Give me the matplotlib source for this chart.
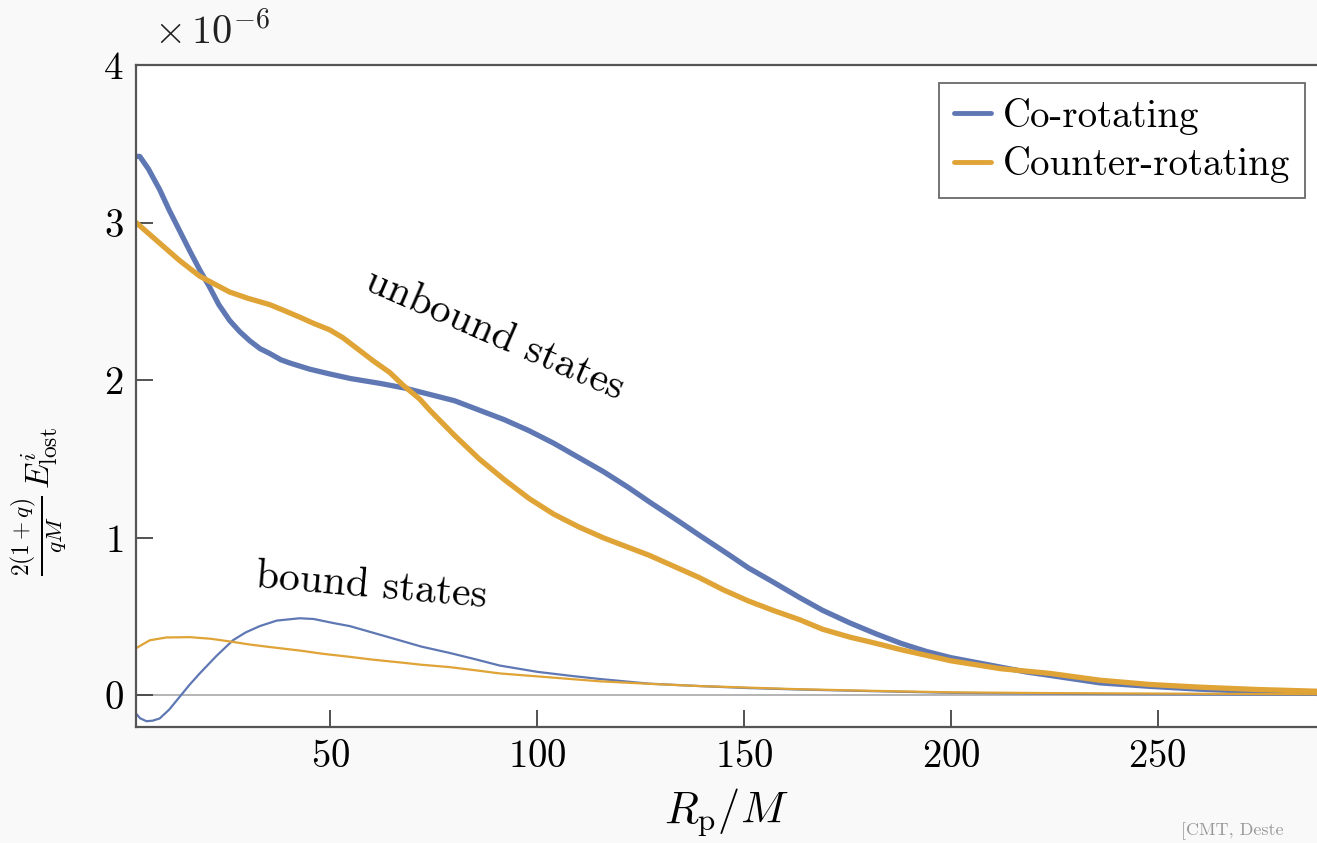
import numpy as np
import matplotlib
matplotlib.use("Agg")
import matplotlib.pyplot as plt

plt.rcParams['font.family'] = 'serif'
plt.rcParams['font.serif'] = ['cmr10', 'DejaVu Serif']
plt.rcParams['mathtext.fontset'] = 'cm'
plt.rcParams['axes.formatter.use_mathtext'] = True

# energy lost, units of 1e-6
# unbound states
rp_co = [3, 3.9, 6, 8.7, 11, 13.5, 16, 18.4, 20.8, 23, 25.6, 28, 30.5, 33, 35.3, 38, 40.1, 45,
         49.8, 55, 62, 68, 74, 80, 86, 92, 98, 104, 110, 116, 122, 127, 134.5, 139, 146.5,
         151, 157, 163.5, 169, 175.6, 182, 188, 194, 200, 206, 212, 218, 224, 236, 248, 260,
         274, 288.5]
e_co = [3.42, 3.42, 3.34, 3.21, 3.08, 2.95, 2.82, 2.70, 2.59, 2.48, 2.38, 2.31, 2.25, 2.20,
        2.17, 2.13, 2.11, 2.07, 2.04, 2.01, 1.98, 1.95, 1.91, 1.87, 1.81, 1.75, 1.68, 1.60,
        1.51, 1.42, 1.32, 1.23, 1.10, 1.02, 0.89, 0.81, 0.72, 0.62, 0.54, 0.46, 0.39, 0.33,
        0.28, 0.24, 0.21, 0.18, 0.15, 0.127, 0.08, 0.058, 0.04, 0.025, 0.013]

rp_counter = [3, 3.9, 8.7, 13.5, 18.4, 22, 25.6, 30, 35.3, 39, 42.6, 46, 49.8, 53, 57, 60.5,
              64.3, 67.5, 71.6, 74, 80, 86, 92, 98, 104, 110, 116, 122, 127, 133, 139, 145,
              151, 157, 163.5, 169, 175.6, 182, 188, 194, 200, 206, 212, 218, 224, 236, 248,
              260, 274, 288.5]
e_counter = [3.0, 2.98, 2.87, 2.76, 2.66, 2.61, 2.56, 2.52, 2.48, 2.44, 2.40, 2.36, 2.32, 2.27,
             2.19, 2.12, 2.05, 1.97, 1.88, 1.81, 1.65, 1.50, 1.37, 1.25, 1.15, 1.07, 1.00,
             0.94, 0.89, 0.82, 0.75, 0.67, 0.60, 0.54, 0.48, 0.42, 0.37, 0.33, 0.29, 0.255,
             0.22, 0.195, 0.17, 0.155, 0.14, 0.097, 0.07, 0.053, 0.038, 0.027]

# bound states
rp_co_bound = [3, 4, 5.5, 7, 8.7, 11, 13.5, 16, 18.4, 22.4, 26.4, 29.5, 32.9, 37, 42.6, 46,
               50.6, 54.7, 58.7, 66.7, 72, 78.8, 85, 90.9, 100, 108, 115, 127, 139, 151, 163,
               180, 200, 230, 260, 288.5]
e_co_bound = [-0.115, -0.145, -0.163, -0.160, -0.146, -0.09, -0.01, 0.07, 0.14, 0.25, 0.35,
              0.40, 0.44, 0.475, 0.49, 0.485, 0.46, 0.44, 0.41, 0.35, 0.31, 0.27, 0.23, 0.19,
              0.15, 0.125, 0.105, 0.075, 0.06, 0.047, 0.038, 0.028, 0.017, 0.01, 0.006, 0.004]

rp_counter_bound = [3, 6.3, 10.3, 16, 21, 26.4, 30, 34.5, 42.6, 48, 54.7, 60, 66.7, 72, 78.8,
                    85, 90.9, 103, 115, 127, 139, 151, 163, 180, 200, 225, 250, 270, 288.5]
e_counter_bound = [0.30, 0.35, 0.368, 0.37, 0.36, 0.34, 0.325, 0.31, 0.285, 0.265, 0.245,
                   0.228, 0.21, 0.195, 0.18, 0.16, 0.14, 0.115, 0.09, 0.074, 0.06, 0.05, 0.04,
                   0.03, 0.02, 0.015, 0.012, 0.01, 0.008]

blue = '#5f78b4'
orange = '#dfa336'

fig = plt.figure(figsize=(13.17, 8.43), dpi=100, facecolor='#f9f9f9')
ax = fig.add_axes([0.1033, 0.1376, 0.8967, 0.7853], facecolor='white')

ax.axhline(0, color='#a8a8a8', lw=1.2, zorder=1)
ax.plot(rp_co, e_co, color=blue, lw=3.8, label='Co-rotating',
        solid_capstyle='round', solid_joinstyle='round')
ax.plot(rp_counter, e_counter, color=orange, lw=3.8, label='Counter-rotating',
        solid_capstyle='round', solid_joinstyle='round')
ax.plot(rp_co_bound, e_co_bound, color=blue, lw=1.6, solid_joinstyle='round')
ax.plot(rp_counter_bound, e_counter_bound, color=orange, lw=1.6, solid_joinstyle='round')

ax.set_xlim(3, 288.5)
ax.set_ylim(-0.2, 4.0)
ax.set_xticks([50, 100, 150, 200, 250])
ax.set_yticks([0, 1, 2, 3, 4])
ax.tick_params(direction='in', length=12, width=1.3, labelsize=28, colors='#444444',
               labelcolor='black', pad=9)
for s in ['left', 'bottom', 'top']:
    ax.spines[s].set_color('#555555')
    ax.spines[s].set_linewidth(1.6)
ax.spines['right'].set_visible(False)

ax.text(0.015, 1.02, r'$\times\,10^{-6}$', transform=ax.transAxes, fontsize=29,
        ha='left', va='bottom', color='#222222')

ax.set_xlabel(r'$R_{\mathrm{p}}/M$', fontsize=32, labelpad=8)
# y label placed by hand so the tall fraction stays inside the figure
ax.text(-0.058, 0.34, r'$\frac{2(1+q)}{qM}\,E^{i}_{\mathrm{lost}}$', transform=ax.transAxes,
        fontsize=24, rotation=90, ha='right', va='center')

ax.text(89.7, 2.29, 'unbound states', fontsize=30, rotation=-23.5, ha='center', va='center')
ax.text(60, 0.69, 'bound states', fontsize=30, rotation=-5, ha='center', va='center')

leg = ax.legend(loc='upper right', bbox_to_anchor=(0.9895, 0.973), fontsize=28, frameon=True,
                fancybox=False, edgecolor='#444444', handlelength=0.95, handletextpad=0.3,
                borderpad=0.38, labelspacing=0.3, borderaxespad=0)
leg.get_frame().set_linewidth(1.3)
for line in leg.get_lines():
    line.set_linewidth(3.5)

fig.text(0.897, 0.003, '[CMT, Deste', fontsize=13, color='#999999', ha='left', va='bottom')

fig.savefig('out.png', dpi=100, facecolor=fig.get_facecolor())
